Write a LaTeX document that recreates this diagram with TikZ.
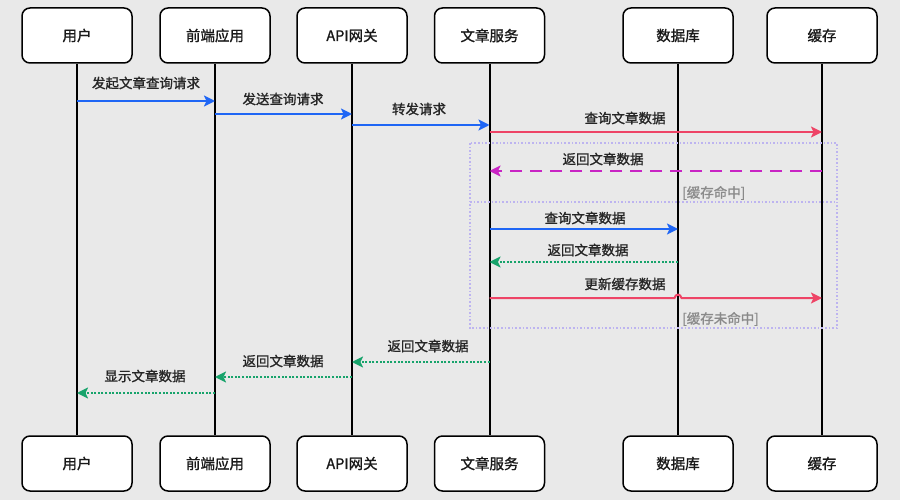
\documentclass[tikz,border=0pt]{standalone}
\usepackage{fontspec}
\setmainfont{Noto Sans CJK SC}[FakeBold=1.2]
\usetikzlibrary{arrows.meta}
\definecolor{bg}{HTML}{E9E9E9}
\definecolor{mblue}{HTML}{1F66F5}
\definecolor{mred}{HTML}{EE4466}
\definecolor{mmag}{HTML}{C924C4}
\definecolor{mgreen}{HTML}{17A36B}
\definecolor{frame}{HTML}{BDB4F0}
\definecolor{note}{HTML}{8A8A8A}
\tikzset{
  part/.style={draw=black, line width=1.5pt, rounded corners=8pt, fill=white,
    minimum width=110pt, minimum height=55pt, inner sep=0pt,
    font=\fontsize{14.5}{16}\selectfont, text=black!90},
  life/.style={line width=2pt, black},
  msg/.style={line width=2pt, -{Stealth[length=11pt,width=11pt,inset=2.5pt]}},
  req/.style={msg, mblue},
  hit/.style={msg, mred},
  back/.style={msg, mmag, dash pattern=on 12pt off 8pt},
  ret/.style={msg, mgreen, dash pattern=on 2pt off 1.6pt},
  lbl/.style={inner sep=0pt, font=\fontsize{13.5}{15}\selectfont, text=black!85},
  cond/.style={inner sep=0pt, anchor=west, font=\fontsize{13.5}{15}\selectfont, text=note},
  altframe/.style={draw=frame, line width=1.6pt, dash pattern=on 1.6pt off 2pt}
}
\begin{document}
\begin{tikzpicture}[x=1pt,y=-1pt]
\fill[bg] (0,0) rectangle (900,500);
\useasboundingbox (0,0) rectangle (900,500);
% participants top
\node[part] (u) at (77,35.5) {用户};
\node[part] (f) at (215,35.5) {前端应用};
\node[part] (a) at (352,35.5) {API网关};
\node[part] (w) at (489.5,35.5) {文章服务};
\node[part] (d) at (678,35.5) {数据库};
\node[part] (c) at (822,35.5) {缓存};
% participants bottom
\node[part] (ub) at (77,463.5) {用户};
\node[part] (fb) at (215,463.5) {前端应用};
\node[part] (ab) at (352,463.5) {API网关};
\node[part] (wb) at (489.5,463.5) {文章服务};
\node[part] (db) at (678,463.5) {数据库};
\node[part] (cb) at (822,463.5) {缓存};
% lifelines
\foreach \t/\b in {u/ub,f/fb,a/ab,w/wb,d/db,c/cb}{\draw[life] (\t) -- (\b);}
% alt frame
\draw[altframe] (470,143) rectangle (837,328);
\draw[altframe] (470,202) -- (837,202);
% messages
\draw[req] (u |- 0,101) -- (f |- 0,101);
\node[lbl] (l1) at (146,83) {发起文章查询请求};
\draw[req] (f |- 0,114) -- (a |- 0,114);
\node[lbl] (l2) at (283,99) {发送查询请求};
\draw[req] (a |- 0,125) -- (w |- 0,125);
\node[lbl] (l3) at (419,109) {转发请求};
\draw[hit] (w |- 0,132) -- (c |- 0,132);
\node[lbl] (l4) at (625,118) {查询文章数据};
\draw[back] (c |- 0,171) -- (w |- 0,171);
\node[lbl] (l5) at (603,159) {返回文章数据};
\node[cond] (n1) at (682,193) {[缓存命中]};
\draw[req] (w |- 0,229) -- (d |- 0,229);
\node[lbl] (l6) at (585,218) {查询文章数据};
\draw[ret] (d |- 0,262) -- (w |- 0,262);
\node[lbl] (l7) at (588,250) {返回文章数据};
\coordinate (j1) at (674.5,298);
\coordinate (j2) at (681.5,298);
\draw[hit] (w |- 0,298) -- (j1) .. controls +(1,-4.5) and +(-1,-4.5) .. (j2) -- (c |- 0,298);
\node[lbl] (l8) at (625,284) {更新缓存数据};
\node[cond] (n2) at (682,319) {[缓存未命中]};
\draw[ret] (w |- 0,362) -- (a |- 0,362);
\node[lbl] (l9) at (428,346) {返回文章数据};
\draw[ret] (a |- 0,377) -- (f |- 0,377);
\node[lbl] (l10) at (283,361) {返回文章数据};
\draw[ret] (f |- 0,393) -- (u |- 0,393);
\node[lbl] (l11) at (145,376) {显示文章数据};
\end{tikzpicture}
\end{document}
